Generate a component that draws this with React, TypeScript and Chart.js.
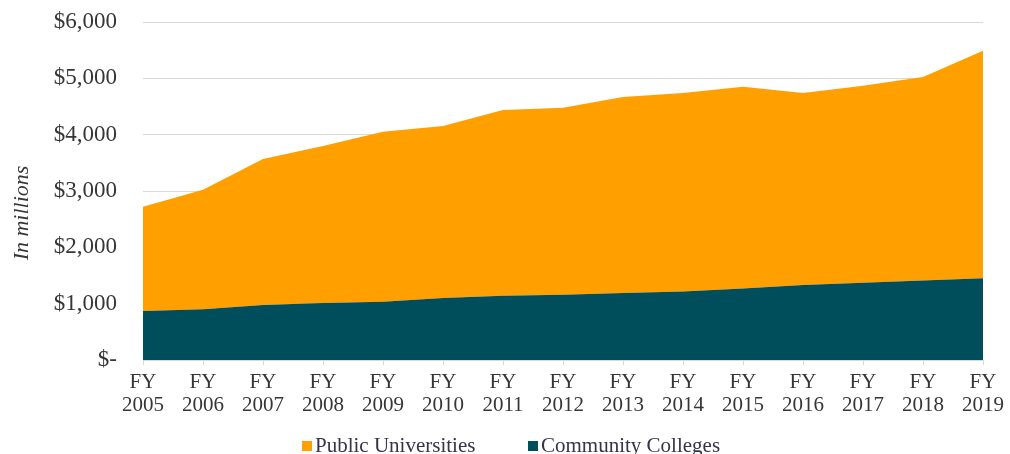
import React, { useEffect, useRef } from "react";
import { Chart, registerables } from "chart.js";

Chart.register(...registerables);

const categories: string[][] = [
  ["FY", "2005"], ["FY", "2006"], ["FY", "2007"], ["FY", "2008"], ["FY", "2009"],
  ["FY", "2010"], ["FY", "2011"], ["FY", "2012"], ["FY", "2013"], ["FY", "2014"],
  ["FY", "2015"], ["FY", "2016"], ["FY", "2017"], ["FY", "2018"], ["FY", "2019"],
];

const communityColleges: number[] = [
  870, 900, 975, 1010, 1035, 1100, 1140, 1160, 1190, 1215, 1270, 1330, 1370, 1410, 1450,
];

const publicUniversities: number[] = [
  1850, 2120, 2595, 2790, 3015, 3056, 3300, 3316, 3480, 3525, 3580, 3410, 3500, 3615, 4040,
];

const yTicks: number[] = [0, 1000, 2000, 3000, 4000, 5000, 6000];

const FONT = '"Liberation Serif", "Times New Roman", serif';
const ORANGE = "#FF9F00";
const TEAL = "#004D5B";
const TEXT = "#363636";

const overlayPlugin = {
  id: "overlay",
  afterDraw(chart: any) {
    const ctx = chart.ctx as CanvasRenderingContext2D;
    ctx.save();
    // Y axis title
    ctx.translate(22, 213);
    ctx.rotate(-Math.PI / 2);
    ctx.font = `italic 22px ${FONT}`;
    ctx.fillStyle = TEXT;
    ctx.textAlign = "center";
    ctx.textBaseline = "middle";
    ctx.fillText("In millions", 0, 0);
    ctx.restore();

    // Legend (Public Universities first)
    ctx.save();
    ctx.font = `21px ${FONT}`;
    ctx.textBaseline = "middle";
    ctx.textAlign = "left";
    const ds = chart.data.datasets;
    const items = [
      { label: ds[1].label, color: ds[1].backgroundColor, x: 302 },
      { label: ds[0].label, color: ds[0].backgroundColor, x: 528 },
    ];
    for (const it of items) {
      ctx.fillStyle = it.color;
      ctx.fillRect(it.x, 441, 10, 10);
      ctx.fillStyle = "#34344A";
      ctx.fillText(it.label, it.x + 13, 446);
    }
    ctx.restore();
  },
};

export default function App() {
  const ref = useRef<HTMLCanvasElement | null>(null);

  useEffect(() => {
    document.body.style.margin = "0";
    if (!ref.current) return;
    const chart = new Chart(ref.current, {
      type: "line",
      data: {
        labels: categories,
        datasets: [
          {
            label: "Community Colleges",
            data: communityColleges,
            backgroundColor: TEAL,
            borderColor: TEAL,
            borderWidth: 0,
            pointRadius: 0,
            fill: "origin",
            tension: 0,
          },
          {
            label: "Public Universities",
            data: publicUniversities,
            backgroundColor: ORANGE,
            borderColor: ORANGE,
            borderWidth: 0,
            pointRadius: 0,
            fill: "-1",
            tension: 0,
          },
        ],
      },
      options: {
        animation: false,
        responsive: false,
        maintainAspectRatio: false,
        layout: { padding: { top: 22, right: 25, bottom: 37, left: 0 } },
        plugins: {
          legend: { display: false },
          tooltip: { enabled: false },
        },
        scales: {
          x: {
            offset: false,
            grid: {
              drawOnChartArea: false,
              drawTicks: true,
              tickLength: 5,
              color: "#D9D9D9",
            },
            border: { display: true, color: "#D9D9D9" },
            ticks: {
              color: TEXT,
              font: { family: FONT, size: 21, lineHeight: 1.1 },
              padding: 6,
              maxRotation: 0,
              autoSkip: false,
            },
            afterFit: (scale: any) => {
              scale.height = 57;
            },
          },
          y: {
            stacked: true,
            min: 0,
            max: 6000,
            afterBuildTicks: (scale: any) => {
              scale.ticks = yTicks.map((v) => ({ value: v }));
            },
            grid: {
              color: "#D9D9D9",
              drawTicks: true,
              tickLength: 26,
              tickColor: "rgba(0,0,0,0)",
            },
            border: { display: false },
            ticks: {
              color: TEXT,
              font: { family: FONT, size: 23 },
              padding: 0,
              callback: (v: any) =>
                Number(v) === 0 ? "$-" : "$" + Number(v).toLocaleString("en-US"),
            },
            afterFit: (scale: any) => {
              scale.width = 143;
            },
          },
        },
      },
      plugins: [overlayPlugin],
    });
    return () => chart.destroy();
  }, []);

  return (
    <div style={{ position: "absolute", left: 0, top: 0, width: 1010, height: 454 }}>
      <canvas ref={ref} width={1010} height={454} style={{ width: 1010, height: 454 }} />
    </div>
  );
}
